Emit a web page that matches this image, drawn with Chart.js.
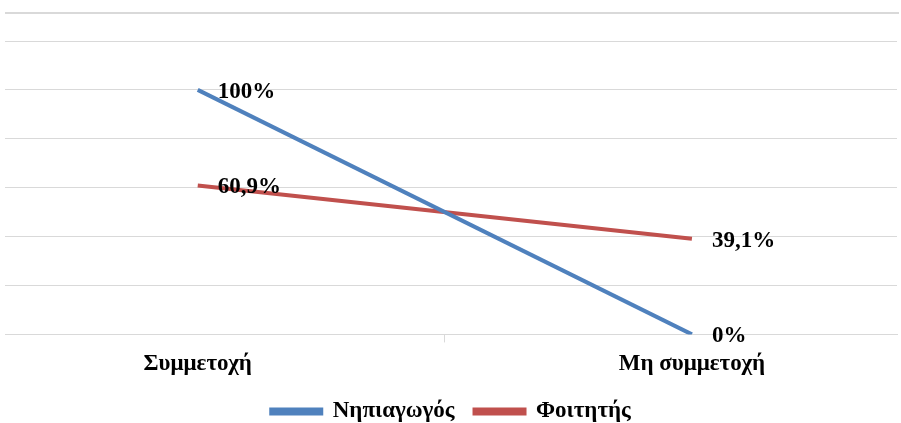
<!DOCTYPE html>
<html>
<head>
<meta charset="utf-8">
<script src="https://cdn.jsdelivr.net/npm/chart.js@4.4.1/dist/chart.umd.min.js"></script>
<style>
  html, body { margin: 0; padding: 0; background: #ffffff; }
  #wrap { position: relative; width: 901px; height: 423px; }
  #frame { position: absolute; left: 5px; right: 2px; top: 12px; height: 0; border-top: 2px solid #d9d9d9; }
  canvas { position: absolute; left: 0; top: 0; }
</style>
</head>
<body>
<div id="wrap">
  <div id="frame"></div>
  <canvas id="chart" width="901" height="423"></canvas>
</div>
<script>
// Participation share by group
const categories = ['Συμμετοχή', 'Μη συμμετοχή'];
const seriesNames = ['Νηπιαγωγός', 'Φοιτητής'];
const kindergartenTeacher = [100, 0];
const student = [60.9, 39.1];
const valueLabels = [['100%', '0%'], ['60,9%', '39,1%']];
const seriesColors = ['#4f81bd', '#c0504d'];

const serifBold = { family: '"Liberation Serif", "Times New Roman", serif', weight: 'bold' };

function toPoints(values) {
  return values.map((v, i) => ({ x: i, y: v }));
}

// writes each series' value label just right of its point
const pointLabels = {
  id: 'pointLabels',
  afterDatasetsDraw(chart) {
    const ctx = chart.ctx;
    ctx.save();
    ctx.font = 'bold 23px "Liberation Serif", "Times New Roman", serif';
    ctx.fillStyle = '#000000';
    ctx.textAlign = 'left';
    ctx.textBaseline = 'middle';
    chart.data.datasets.forEach((ds, di) => {
      const meta = chart.getDatasetMeta(di);
      meta.data.forEach((pt, i) => {
        ctx.fillText(valueLabels[di][i], pt.x + 20, pt.y + 2);
      });
    });
    ctx.restore();
  }
};

new Chart(document.getElementById('chart'), {
  type: 'line',
  data: {
    datasets: [
      { label: seriesNames[0], data: toPoints(kindergartenTeacher), borderColor: seriesColors[0], backgroundColor: seriesColors[0], borderWidth: 4, pointRadius: 0, tension: 0 },
      { label: seriesNames[1], data: toPoints(student), borderColor: seriesColors[1], backgroundColor: seriesColors[1], borderWidth: 4, pointRadius: 0, tension: 0 }
    ]
  },
  options: {
    responsive: false,
    animation: false,
    layout: { padding: { left: 5, right: 4, top: 41, bottom: -10 } },
    plugins: {
      tooltip: { enabled: false },
      legend: {
        position: 'bottom',
        labels: {
          boxWidth: 50,
          boxHeight: 4,
          padding: 20,
          color: '#000000',
          font: { ...serifBold, size: 23 }
        }
      }
    },
    scales: {
      x: {
        type: 'linear',
        min: -0.39,
        max: 1.415,
        afterBuildTicks(scale) {
          scale.ticks = [{ value: 0 }, { value: 0.5 }, { value: 1 }];
        },
        afterFit(scale) {
          scale.height -= 6;
        },
        ticks: {
          autoSkip: false,
          maxRotation: 0,
          padding: 8,
          color: '#000000',
          font: { ...serifBold, size: 23 },
          callback(value) {
            const i = Math.round(value);
            return Math.abs(value - i) < 1e-6 ? categories[i] : '';
          }
        },
        grid: {
          drawOnChartArea: false,
          drawTicks: true,
          tickLength: 8,
          color: (c) => (c.tick && c.tick.value === 0.5 ? '#d9d9d9' : 'rgba(0,0,0,0)')
        },
        border: { display: true, color: '#d9d9d9', width: 1 }
      },
      y: {
        min: 0,
        max: 120,
        ticks: { display: false, stepSize: 20 },
        grid: { color: '#d9d9d9', lineWidth: 1, drawTicks: false },
        border: { display: false }
      }
    }
  },
  plugins: [pointLabels]
});
</script>
</body>
</html>
